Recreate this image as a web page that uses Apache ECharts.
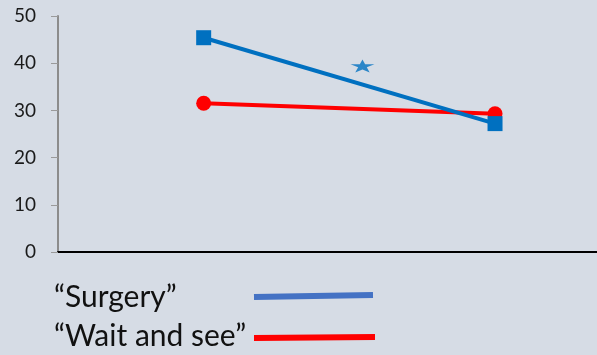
<!DOCTYPE html>
<html><head><meta charset="utf-8">
<script src="https://cdn.jsdelivr.net/npm/echarts@6/dist/echarts.min.js"></script>
<style>html,body{margin:0;padding:0;background:#D6DCE5;}#c{width:597px;height:355px;}</style>
</head><body><div id="c"></div>
<script>
var seriesNames = ['\u201cSurgery\u201d', '\u201cWait and see\u201d'];
var timePoints = [0.5, 1.5];
var surgery = [45.4, 27.2];
var waitAndSee = [31.5, 29.3];
var starPoint = [1.045, 39.4];

var chart = echarts.init(document.getElementById('c'));
var fontFam = 'Lato, "Open Sans", sans-serif';
chart.setOption({
  backgroundColor: '#D6DCE5',
  animation: false,
  grid: { left: 58, top: 16, right: 0, height: 236, containLabel: false },
  xAxis: {
    type: 'value', min: 0, max: 1.85,
    axisLine: { show: true, onZero: false, lineStyle: { color: '#000', width: 2 } },
    axisTick: { show: false }, axisLabel: { show: false }, splitLine: { show: false }
  },
  yAxis: {
    type: 'value', min: 0, max: 50, interval: 10,
    axisLine: { show: true, lineStyle: { color: '#8c8c8c', width: 2 } },
    axisTick: { show: true, length: 7, lineStyle: { color: '#9a9a9a', width: 1 } },
    axisLabel: { margin: 22, fontSize: 19, color: '#1a1a1a', fontFamily: fontFam },
    splitLine: { show: false }
  },
  series: [
    { name: seriesNames[1], type: 'line', data: timePoints.map(function(x,i){return [x, waitAndSee[i]];}),
      symbol: 'circle', symbolSize: 15, lineStyle: { color: '#FF0000', width: 4 },
      itemStyle: { color: '#FF0000' } },
    { name: seriesNames[0], type: 'line', data: timePoints.map(function(x,i){return [x, surgery[i]];}),
      symbol: 'rect', symbolSize: 15, lineStyle: { color: '#0070C0', width: 4 },
      itemStyle: { color: '#0070C0' } },
    { name: 'star', type: 'scatter', data: [starPoint], symbol: 'path://M50,0 L61,35 L100,35 L68,57 L80,95 L50,72 L20,95 L32,57 L0,35 L39,35 Z',
      symbolSize: [24, 13], itemStyle: { color: '#0070C0' } }
  ],
  graphic: [
    { type: 'text', left: 54, top: 282, style: { text: seriesNames[0], font: '30px ' + fontFam, fill: '#111' } },
    { type: 'text', left: 54, top: 321, style: { text: seriesNames[1], font: '30px ' + fontFam, fill: '#111' } },
    { type: 'line', shape: { x1: 254, y1: 297, x2: 373, y2: 295 }, style: { stroke: '#4472C4', lineWidth: 6 } },
    { type: 'line', shape: { x1: 254, y1: 338, x2: 375, y2: 337 }, style: { stroke: '#FF0000', lineWidth: 6 } }
  ]
});
</script></body></html>
